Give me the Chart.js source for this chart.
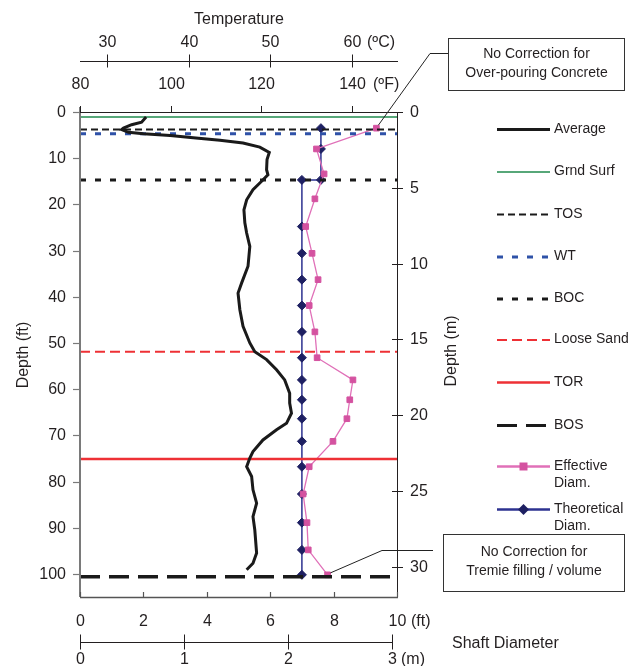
<!DOCTYPE html>
<html>
<head>
<meta charset="utf-8">
<script src="https://cdn.jsdelivr.net/npm/chart.js@4"></script>
<style>html,body{margin:0;background:#fff}canvas{display:block}</style>
</head>
<body>
<canvas id="c" width="639" height="666"></canvas>
<script>
/* ---- data ---- */
// thermal profile (Average): depth in ft, temperature in °F
const avgDepth = [1.1, 2.2, 2.75, 3.5, 3.8, 4.4, 4.7, 5.1, 5.6, 6.1, 6.7, 7.6, 8.75, 10.3, 12.5, 13.6, 15.0, 16.8, 19.0, 21.2,
  24.0, 26.2, 29.1, 33.4, 37.0, 39.2, 42.8, 46.4, 50.0, 51.9, 53.6, 55.8, 58.0, 60.9, 63.0, 65.2, 67.4, 68.8, 71.0, 73.5,
  74.9, 76.8, 78.9, 81.8, 84.7, 87.6, 90.5, 95.5, 97.7, 99.1];
const avgTempF = [94.6, 93.6, 91.4, 89.6, 89.2, 90.7, 94.0, 99.9, 105.0, 110.9, 116.0, 119.7, 121.8, 121.3, 121.2, 121.5, 120.1, 118.2, 116.8, 116.2,
  116.4, 116.8, 117.5, 117.1, 115.7, 114.9, 115.3, 116.0, 117.5, 118.6, 121.2, 123.4, 125.2, 126.3, 126.3, 126.7, 125.6, 123.4, 120.4, 118.2,
  117.5, 116.8, 117.9, 118.2, 119.0, 118.2, 118.6, 119.0, 118.2, 116.8];

// shaft diameters (ft) vs depth (ft)
const effDepth = [3.5, 8.0, 13.4, 18.8, 24.8, 30.6, 36.3, 41.9, 47.6, 53.2, 58.0, 62.3, 66.4, 71.3, 76.8, 82.7, 88.9, 94.8, 100.2];
const effDiam  = [9.35, 7.46, 7.70, 7.41, 7.12, 7.32, 7.51, 7.23, 7.41, 7.48, 8.61, 8.51, 8.42, 7.98, 7.23, 7.04, 7.16, 7.20, 7.81];
const theoDepth = [3.5, 8.0, 14.7, 14.7, 24.8, 30.6, 36.3, 41.9, 47.6, 53.2, 58.0, 62.3, 66.4, 71.3, 76.8, 82.7, 88.9, 94.8, 100.2];
const theoDiam  = [7.6, 7.6, 7.6, 7.0, 7.0, 7.0, 7.0, 7.0, 7.0, 7.0, 7.0, 7.0, 7.0, 7.0, 7.0, 7.0, 7.0, 7.0, 7.0];

// reference elevations (ft)
const grndSurf = 1.1, tos = 3.8, wt = 4.7, boc = 14.7, looseSand = 51.9, tor = 75.1, bos = 100.6;

// tick labels
const depthFtTicks = [0, 10, 20, 30, 40, 50, 60, 70, 80, 90, 100];
const depthMTicks = [0, 5, 10, 15, 20, 25, 30];
const diamFtTicks = [0, 2, 4, 6, 8, 10];
const diamMTicks = [0, 1, 2, 3];
const tempFTicks = [80, 100, 120, 140];
const tempCTicks = [30, 40, 50, 60];

const FT_PER_M = 3.28084;
const FONT = '"Liberation Sans", Arial, sans-serif';
const INK = '#231f20';

const pts = (xs, ys) => xs.map((x, i) => ({ x: x, y: ys[i] }));
const across = (d) => [{ x: 0, y: d }, { x: 10, y: d }];
const flat = { pointRadius: 0, showLine: true, fill: false, tension: 0 };

const datasets = [
  { label: 'Average', data: pts(avgTempF, avgDepth), xAxisID: 'xT', borderColor: '#1a1a1a', borderWidth: 3, ...flat },
  { label: 'Grnd Surf', data: across(grndSurf), borderColor: '#1f8a4c', borderWidth: 1.5, ...flat },
  { label: 'TOS', data: across(tos), borderColor: '#1a1a1a', borderWidth: 2, borderDash: [7, 4], ...flat },
  { label: 'WT', data: across(wt), borderColor: '#2f52a8', borderWidth: 3, borderDash: [6, 9], ...flat },
  { label: 'BOC', data: across(boc), borderColor: '#1a1a1a', borderWidth: 3, borderDash: [6, 9], ...flat },
  { label: 'Loose Sand', data: across(looseSand), borderColor: '#ee3035', borderWidth: 2, borderDash: [10, 5], ...flat },
  { label: 'TOR', data: across(tor), borderColor: '#ee3035', borderWidth: 2.5, ...flat },
  { label: 'BOS', data: across(bos), borderColor: '#1a1a1a', borderWidth: 3.5, borderDash: [20, 9], ...flat },
  { label: 'Effective Diam.', data: pts(effDiam, effDepth), borderColor: '#e070b8', borderWidth: 1.3, showLine: true, tension: 0,
    pointStyle: 'rect', pointRadius: 4, pointBackgroundColor: '#d452a0', pointBorderColor: '#d452a0', pointBorderWidth: 1 },
  { label: 'Theoretical Diam.', data: pts(theoDiam, theoDepth), borderColor: '#2d3290', borderWidth: 1.5, showLine: true, tension: 0,
    pointStyle: 'rectRot', pointRadius: 4.5, pointBackgroundColor: '#1e2062', pointBorderColor: '#1e2062', pointBorderWidth: 1 }
];

/* axes, legend and notes drawn from the chart's own scales */
const frame = {
  id: 'frame',
  afterDraw(chart) {
    const { ctx, chartArea: a, scales } = chart;
    const X = scales.x, T = scales.xT, Y = scales.y;
    const line = (x1, y1, x2, y2, col, w) => {
      ctx.beginPath(); ctx.strokeStyle = col; ctx.lineWidth = w;
      ctx.moveTo(x1, y1); ctx.lineTo(x2, y2); ctx.stroke();
    };
    const text = (s, x, y, align, size) => {
      ctx.font = (size || 16) + 'px ' + FONT; ctx.fillStyle = INK;
      ctx.textAlign = align || 'center'; ctx.textBaseline = 'middle'; ctx.fillText(s, x, y);
    };
    ctx.save();

    // left depth (ft) axis
    line(a.left, a.top - 5, a.left, a.bottom, '#7a7a7a', 2);
    depthFtTicks.forEach((v) => {
      const py = Math.round(Y.getPixelForValue(v)) + 0.5;
      line(a.left - 7, py, a.left, py, '#7a7a7a', 1.2);
      text(String(v), a.left - 14, py, 'right');
    });
    // right depth (m) axis
    line(a.right + 0.5, a.top, a.right + 0.5, a.bottom, INK, 1);
    depthMTicks.forEach((v) => {
      const py = Math.round(Y.getPixelForValue(v * FT_PER_M)) + 0.5;
      line(a.right - 5, py, a.right + 6, py, INK, 1);
      text(String(v), a.right + 13, py, 'left');
    });
    // top (°F) axis on the frame
    line(a.left, a.top + 0.5, a.right, a.top + 0.5, INK, 1);
    tempFTicks.forEach((v) => {
      const px = Math.round(T.getPixelForValue(v)) + 0.5;
      line(px, a.top - 6, px, a.top, INK, 1);
      text(String(v), px, a.top - 27);
    });
    text('(ºF)', a.right - 24, a.top - 27, 'left');
    // °C axis above it
    const cy = a.top - 50.5;
    line(a.left, cy, a.right + 1, cy, INK, 1);
    tempCTicks.forEach((v) => {
      const px = Math.round(T.getPixelForValue(v * 1.8 + 32)) + 0.5;
      line(px, cy - 7, px, cy + 6, INK, 1);
      text(String(v), px, cy - 19);
    });
    text('(ºC)', a.right - 30, cy - 19, 'left');
    text('Temperature', T.getPixelForValue(115) + 0.5, 20);

    // bottom diameter (ft) axis
    line(a.left, a.bottom + 0.5, a.right + 1, a.bottom + 0.5, '#555', 1.5);
    diamFtTicks.forEach((v) => {
      const px = Math.round(X.getPixelForValue(v)) + 0.5;
      line(px, a.bottom - 5, px, a.bottom, '#555', 1.2);
      text(String(v), px, a.bottom + 25);
    });
    text('(ft)', a.right + 14, a.bottom + 25, 'left');
    // diameter (m) axis
    const my = a.bottom + 45.5;
    const mEnd = X.getPixelForValue(3 * FT_PER_M);
    line(a.left, my, mEnd, my, INK, 1);
    diamMTicks.forEach((v) => {
      const px = Math.round(X.getPixelForValue(v * FT_PER_M)) + 0.5;
      line(px, my - 8, px, my + 7, INK, 1);
      text(String(v), px, my + 17);
    });
    text('(m)', mEnd + 9, my + 17, 'left');
    text('Shaft Diameter', 452, my + 1, 'left');

    // rotated depth titles
    ctx.save(); ctx.translate(24, 355); ctx.rotate(-Math.PI / 2); text('Depth (ft)', 0, 0); ctx.restore();
    ctx.save(); ctx.translate(452, 351); ctx.rotate(-Math.PI / 2); text('Depth (m)', 0, 0); ctx.restore();

    // legend
    const rowY = [129, 171.5, 214, 256.5, 298.5, 339.5, 382, 425, 466, 509];
    chart.data.datasets.forEach((ds, i) => {
      const y0 = rowY[i] + 0.5, x0 = 497, x1 = 550;
      ctx.save();
      ctx.setLineDash(ds.borderDash || []);
      line(x0, y0, x1, y0, ds.borderColor, Math.min(ds.borderWidth, 3) + (ds.pointRadius ? 1 : 0));
      ctx.restore();
      if (ds.pointRadius) {
        ctx.fillStyle = ds.pointBackgroundColor;
        const r = ds.pointRadius, cx = (x0 + x1) / 2;
        ctx.beginPath();
        if (ds.pointStyle === 'rect') ctx.rect(cx - r, y0 - r, 2 * r, 2 * r);
        else { ctx.moveTo(cx, y0 - r - 1); ctx.lineTo(cx + r + 1, y0); ctx.lineTo(cx, y0 + r + 1); ctx.lineTo(cx - r - 1, y0); ctx.closePath(); }
        ctx.fill();
      }
      const parts = ds.label.endsWith('Diam.') ? [ds.label.replace(' Diam.', ''), 'Diam.'] : [ds.label];
      parts.forEach((p, k) => text(p, 554, rowY[i] + k * 17.5, 'left', 14));
    });

    // note boxes with leader lines to the first / last effective points
    const first = { x: X.getPixelForValue(effDiam[0]), y: Y.getPixelForValue(effDepth[0]) };
    const last = { x: X.getPixelForValue(effDiam[effDiam.length - 1]), y: Y.getPixelForValue(effDepth[effDepth.length - 1]) };
    ctx.strokeStyle = '#333'; ctx.lineWidth = 1;
    ctx.strokeRect(448.5, 38.5, 176, 52);
    text('No Correction for', 536.5, 54, 'center', 14);
    text('Over-pouring Concrete', 536.5, 73, 'center', 14);
    ctx.beginPath(); ctx.strokeStyle = '#222'; ctx.lineWidth = 1;
    ctx.moveTo(448, 53.5); ctx.lineTo(430, 53.5); ctx.lineTo(first.x + 2, first.y - 3); ctx.stroke();
    ctx.strokeStyle = '#333';
    ctx.strokeRect(443.5, 534.5, 181, 57);
    text('No Correction for', 534, 552, 'center', 14);
    text('Tremie filling / volume', 534, 571, 'center', 14);
    ctx.beginPath(); ctx.strokeStyle = '#222';
    ctx.moveTo(433, 550.5); ctx.lineTo(382, 550.5); ctx.lineTo(last.x + 3, last.y - 2); ctx.stroke();

    ctx.restore();
  }
};

new Chart(document.getElementById('c'), {
  type: 'scatter',
  data: { datasets },
  options: {
    responsive: false, animation: false, devicePixelRatio: 1,
    layout: { padding: { left: 80, top: 112, right: 242, bottom: 69 } },
    plugins: { legend: { display: false }, tooltip: { enabled: false } },
    scales: {
      x: { type: 'linear', min: 0, max: 10, display: false },
      xT: { type: 'linear', min: 80, max: 150, display: false },
      y: { type: 'linear', reverse: true, min: 0, max: 105, display: false }
    }
  },
  plugins: [frame]
});
</script>
</body>
</html>
